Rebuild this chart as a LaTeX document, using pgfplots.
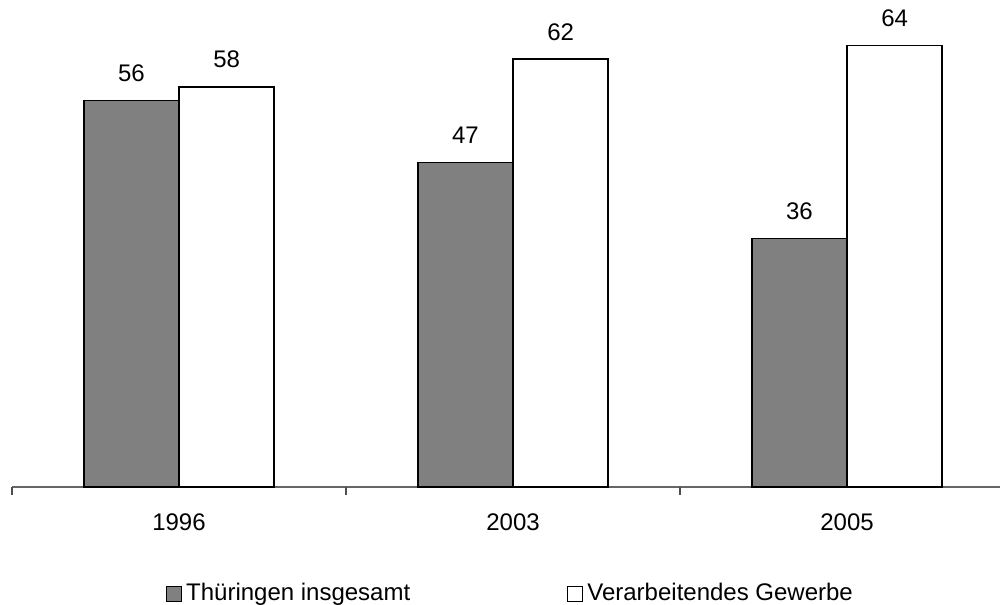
\documentclass[border=0pt]{standalone}
\usepackage{pgfplots}
\pgfplotsset{compat=1.18}
\usepackage{fontspec}
\setmainfont{Liberation Sans}
\definecolor{bargray}{RGB}{128,128,128}
\begin{document}
\fontsize{12}{14}\selectfont
\begin{tikzpicture}
\begin{axis}[
  scale only axis,
  width=494pt, height=241.5pt,
  xmin=-0.5, xmax=2.458,
  ymin=0, ymax=70,
  axis x line=bottom,
  axis y line=none,
  x axis line style={draw=bargray!80!black, line width=0.6pt, -},
  ybar=0pt,
  bar width=0.285,
  xtick={0,1,2},
  xticklabels={1996,2003,2005},
  major tick length=0pt,
  xticklabel style={anchor=north, inner sep=0pt, yshift=-13pt},
  extra x ticks={-0.5,0.5,1.5},
  extra x tick labels={},
  extra x tick style={major tick length=3.8pt, tick align=outside, tick style={draw=bargray!60!black, line width=0.6pt}},
  /pgf/number format/assume math mode=true,
  nodes near coords,
  every node near coord/.append style={black, inner sep=0pt, yshift=9pt, anchor=south},
  legend columns=2,
  legend style={draw=none, fill=none, at={(axis description cs:0.5055,0)}, anchor=center, yshift=-53.5pt, inner sep=0pt},
  clip=false,
]
\addplot[fill=bargray, draw=black, line width=0.8pt,
  legend image code/.code={\draw[fill=bargray, draw=black, line width=0.6pt] (0pt,-3.75pt) rectangle (7.5pt,3.75pt);}]
  coordinates {(0,56) (1,47) (2,36)};
\addlegendentry{\makebox[188.5pt][l]{Thüringen insgesamt}}
\addplot[fill=white, draw=black, line width=0.8pt,
  legend image code/.code={\draw[fill=white, draw=black, line width=0.6pt] (0pt,-3.75pt) rectangle (7.5pt,3.75pt);}]
  coordinates {(0,58) (1,62) (2,64)};
\addlegendentry{Verarbeitendes Gewerbe}
\coordinate (O) at (rel axis cs:0,0);
\coordinate (T) at (rel axis cs:1,1);
\end{axis}
\pgfresetboundingbox
\path[use as bounding box] ([xshift=-6pt,yshift=-59pt]O) rectangle ([yshift=2pt]T);
\end{tikzpicture}
\end{document}
